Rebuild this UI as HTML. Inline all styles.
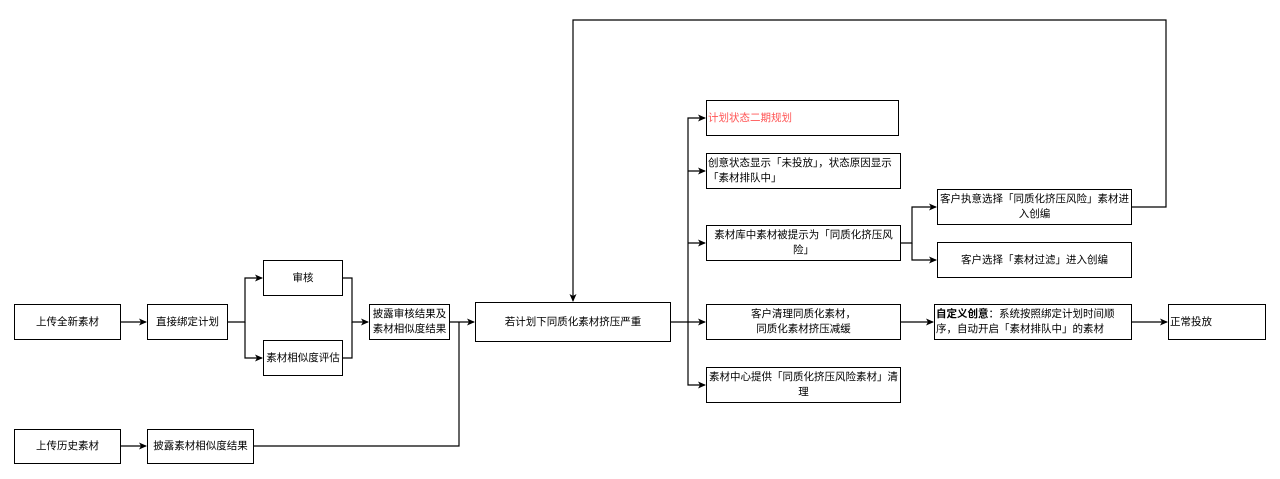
<!DOCTYPE html>
<html><head><meta charset="utf-8"><style>
body{margin:0;background:#fff;width:1280px;height:479px;overflow:hidden}
.b{position:absolute;border:1px solid #000;box-sizing:border-box;background:#fff;display:flex;align-items:center;justify-content:center;text-align:center;font-family:"Liberation Sans","Noto Sans CJK SC",sans-serif;font-size:10.5px;line-height:15px;color:#000;padding:0 1px}
.l{justify-content:flex-start;text-align:left}
</style></head><body>
<svg width="1280" height="479" style="position:absolute;left:0;top:0">
<defs><marker id="a" markerWidth="8" markerHeight="8" refX="7" refY="4" orient="auto" markerUnits="userSpaceOnUse"><path d="M0,0.5 L8,4 L0,7.5 L2,4z" fill="#000"/></marker></defs>
<g stroke="#000" stroke-width="1.2" fill="none">
<path d="M121,322H146" marker-end="url(#a)"/>
<path d="M228,322H245V278H262" marker-end="url(#a)"/>
<path d="M245,322V358H262" marker-end="url(#a)"/>
<path d="M343,278H352V322H368" marker-end="url(#a)"/>
<path d="M343,358H352V322"/>
<path d="M450,322H474" marker-end="url(#a)"/>
<path d="M121,446H146" marker-end="url(#a)"/>
<path d="M254,446H459V322"/>
<path d="M671,322H688V118H705" marker-end="url(#a)"/>
<path d="M688,171H705" marker-end="url(#a)"/>
<path d="M688,243H705" marker-end="url(#a)"/>
<path d="M688,322H705" marker-end="url(#a)"/>
<path d="M688,322V385H705" marker-end="url(#a)"/>
<path d="M901,243H912V207H936" marker-end="url(#a)"/>
<path d="M912,243V260H936" marker-end="url(#a)"/>
<path d="M1132,207H1166V20H573V301" marker-end="url(#a)"/>
<path d="M901,322H933" marker-end="url(#a)"/>
<path d="M1132,322H1167" marker-end="url(#a)"/>
</g></svg>
<div class="b" style="left:14px;top:304px;width:107px;height:36px">上传全新素材</div>
<div class="b" style="left:147px;top:304px;width:81px;height:36px">直接绑定计划</div>
<div class="b" style="left:263px;top:260px;width:80px;height:36px">审核</div>
<div class="b" style="left:263px;top:340px;width:80px;height:36px">素材相似度评估</div>
<div class="b" style="left:369px;top:304px;width:81px;height:36px">披露审核结果及素材相似度结果</div>
<div class="b" style="left:475px;top:302px;width:196px;height:40px">若计划下同质化素材挤压严重</div>
<div class="b" style="left:14px;top:429px;width:107px;height:35px">上传历史素材</div>
<div class="b" style="left:147px;top:429px;width:107px;height:35px">披露素材相似度结果</div>
<div class="b l" style="left:706px;top:100px;width:193px;height:36px;color:#ff5555">计划状态二期规划</div>
<div class="b l" style="left:706px;top:153px;width:195px;height:36px">创意状态显示「未投放」，状态原因显示「素材排队中」</div>
<div class="b" style="left:706px;top:225px;width:195px;height:36px">素材库中素材被提示为「同质化挤压风险」</div>
<div class="b" style="left:937px;top:189px;width:195px;height:36px">客户执意选择「同质化挤压风险」素材进入创编</div>
<div class="b" style="left:937px;top:242px;width:195px;height:36px">客户选择「素材过滤」进入创编</div>
<div class="b" style="left:706px;top:304px;width:195px;height:36px">客户清理同质化素材，<br>同质化素材挤压减缓</div>
<div class="b l" style="left:934px;top:304px;width:198px;height:36px;display:block;padding-top:2px"><b>自定义创意</b>：系统按照绑定计划时间顺序，自动开启「素材排队中」的素材</div>
<div class="b l" style="left:1168px;top:304px;width:98px;height:36px">正常投放</div>
<div class="b" style="left:706px;top:367px;width:195px;height:36px">素材中心提供「同质化挤压风险素材」清理</div>
</body></html>
